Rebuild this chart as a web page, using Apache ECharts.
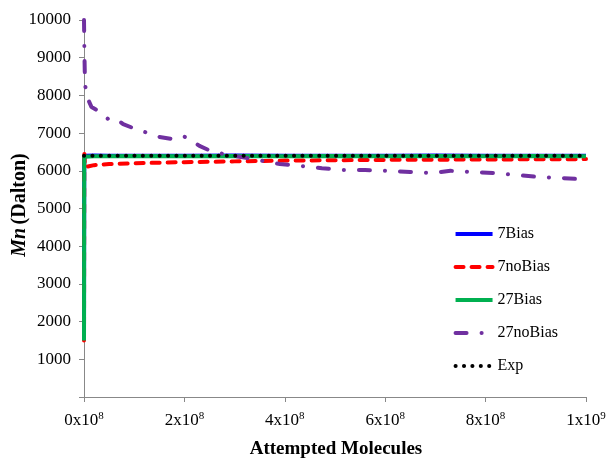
<!DOCTYPE html>
<html><head><meta charset="utf-8">
<script src="https://cdn.jsdelivr.net/npm/echarts@6/dist/echarts.min.js"></script>
<style>html,body{margin:0;padding:0;background:#fff}#c{width:608px;height:459px}</style>
</head><body><div id="c"></div>
<script>
var seriesNames = ['7Bias', '7noBias', '27Bias', '27noBias', 'Exp'];
var xTicks = ['0x10{s|8}', '2x10{s|8}', '4x10{s|8}', '6x10{s|8}', '8x10{s|8}', '1x10{s|9}'];
var xCommon = [0, 5e5, 2e6, 2e7, 5e7, 1e8, 2e8, 3e8, 4e8, 5e8, 6e8, 7e8, 8e8, 9e8, 1e9];
var bias7 = [1500, 6300, 6400, 6405, 6400, 6400, 6400, 6405, 6400, 6400, 6400, 6405, 6400, 6400, 6400];
var noBias7 = [1500, 6520, 6100, 6150, 6180, 6200, 6230, 6250, 6270, 6280, 6290, 6295, 6300, 6305, 6310];
var bias27 = [1500, 6370, 6380, 6385, 6385, 6390, 6385, 6390, 6385, 6390, 6385, 6390, 6385, 6390, 6385];
var xNoBias27 = [0, 1e6, 2e6, 6e6, 1.5e7, 3.2e7, 5e7, 6.5e7, 7.8e7, 1.04e8, 1.28e8, 1.5e8, 1.78e8, 1.97e8, 2.1e8, 2.3e8, 2.57e8, 2.77e8, 3.37e8, 3.9e8, 4.3e8, 4.74e8, 5.16e8, 5.6e8, 6.06e8, 6.5e8, 6.95e8, 7.3e8, 7.73e8, 8.17e8, 8.6e8, 9.04e8, 9.48e8, 1e9];
var noBias27 = [10000, 9000, 8300, 7960, 7690, 7560, 7350, 7370, 7240, 7100, 7000, 6900, 6840, 6920, 6850, 6660, 6500, 6450, 6310, 6180, 6130, 6070, 6020, 6020, 6000, 5970, 5940, 6000, 5970, 5940, 5890, 5840, 5810, 5770];
var xExp = [0, 1e9];
var expVals = [6400, 6400];

function zip(xs, ys) { return xs.map(function (x, i) { return [x, ys[i]]; }); }

var serif = 'Liberation Serif';
var chart = echarts.init(document.getElementById('c'));
chart.setOption({
  animation: false,
  grid: { left: 84, right: 22, top: 20, bottom: 62, containLabel: false, outerBoundsMode: 'none' },
  graphic: [{
    type: 'text', x: 20, y: 205, rotation: Math.PI / 2,
    style: {
      text: '{i|Mn} {b|(Dalton)}', align: 'center', verticalAlign: 'middle',
      rich: {
        i: { fontFamily: serif, fontSize: 20, fontWeight: 'bold', fontStyle: 'italic', fill: '#000' },
        b: { fontFamily: serif, fontSize: 20, fontWeight: 'bold', fill: '#000' }
      }
    }
  }, {
    type: 'text', x: 336, y: 449,
    style: {
      text: 'Attempted Molecules', align: 'center', verticalAlign: 'middle',
      fontFamily: serif, fontSize: 19, fontWeight: 'bold', fill: '#000'
    }
  }],
  legend: {
    orient: 'vertical', right: 45, top: 221,
    itemWidth: 37, itemHeight: 14, itemGap: 17,
    itemStyle: { opacity: 0 },
    lineStyle: { width: 4 },
    textStyle: { fontFamily: serif, fontSize: 16, color: '#000' },
    data: seriesNames
  },
  xAxis: {
    type: 'value', min: 0, max: 1e9, interval: 2e8,
    axisLine: { lineStyle: { color: '#888', width: 1 } },
    axisTick: { show: true, length: 5, lineStyle: { color: '#888' } },
    splitLine: { show: false },
    axisLabel: {
      margin: 14,
      formatter: function (v) { return xTicks[Math.round(v / 2e8)]; },
      fontFamily: serif, fontSize: 17, color: '#000',
      rich: { s: { fontFamily: serif, fontSize: 11, color: '#000', padding: [0, 0, 9, 0] } }
    }
  },
  yAxis: {
    type: 'value', min: 0, max: 10000, interval: 1000,
    axisLine: { show: true, lineStyle: { color: '#888', width: 1 } },
    axisTick: { show: true, length: 5, lineStyle: { color: '#888' } },
    splitLine: { show: false },
    axisLabel: {
      margin: 13,
      formatter: function (v) { return v === 0 ? '' : String(v); },
      fontFamily: serif, fontSize: 17, color: '#000'
    }
  },
  series: [
    { name: '7Bias', type: 'line', data: zip(xCommon, bias7), showSymbol: false, symbol: 'none',
      lineStyle: { color: '#0000ff', width: 4 }, itemStyle: { color: '#0000ff' } },
    { name: '7noBias', type: 'line', data: zip(xCommon, noBias7), showSymbol: false, symbol: 'none',
      lineStyle: { color: '#ff0000', width: 4, type: [8, 8], cap: 'round' }, itemStyle: { color: '#ff0000' } },
    { name: '27Bias', type: 'line', data: zip(xCommon, bias27), showSymbol: false, symbol: 'none',
      lineStyle: { color: '#00b050', width: 4 }, itemStyle: { color: '#00b050' } },
    { name: '27noBias', type: 'line', data: zip(xNoBias27, noBias27), showSymbol: false, symbol: 'none',
      lineStyle: { color: '#7030a0', width: 4, type: [11, 15, 0.1, 15], cap: 'round' }, itemStyle: { color: '#7030a0' } },
    { name: 'Exp', type: 'line', data: zip(xExp, expVals), showSymbol: false, symbol: 'none',
      lineStyle: { color: '#000', width: 4, type: [0.1, 8.3], cap: 'round' }, itemStyle: { color: '#000' } }
  ]
});
</script></body></html>
